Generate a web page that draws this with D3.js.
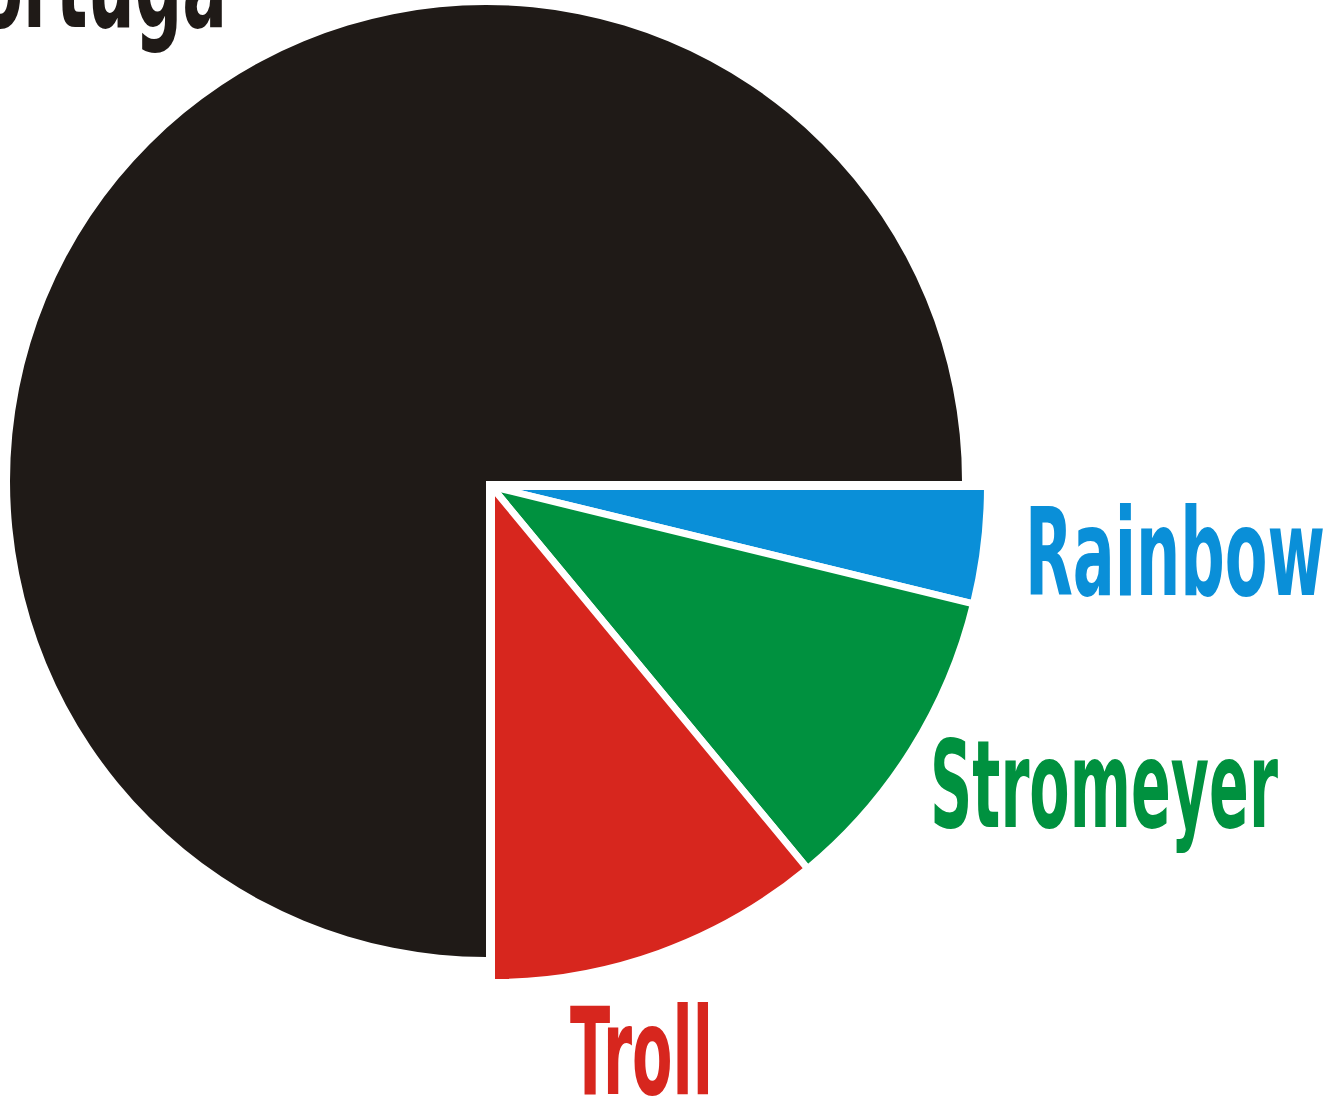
<!DOCTYPE html>
<html>
<head>
<meta charset="utf-8">
<script src="https://cdn.jsdelivr.net/npm/d3@7"></script>
<style>
  body { margin: 0; background: #fff; }
  text { font-family: "Liberation Sans Narrow", "DejaVu Sans Condensed", sans-serif; font-weight: bold; }
</style>
</head>
<body>
<div id="chart"></div>
<script>
// slice data, in drawing order (clockwise from 3 o'clock)
const names = ["Rainbow", "Stromeyer", "Troll", "Tortuga"];
const shares = [3.8, 10.2, 11.0, 75.0];
const colors = ["#0a8fd8", "#00913f", "#d7261e", "#1f1a17"];

const width = 1323, height = 1099;
// label placement (x, baseline, width) - picked by eye
const labelLayout = {
  "Rainbow":   {x: 1025, y: 595, w: 300, anchor: "start"},
  "Stromeyer": {x: 930,  y: 827, w: 348, anchor: "start"},
  "Troll":     {x: 570,  y: 1094, w: 143, anchor: "start"},
  "Tortuga":   {x: 227,  y: 27,  w: 285, anchor: "end"}
};

const svg = d3.select("#chart").append("svg")
  .attr("width", width)
  .attr("height", height);

const pie = d3.pie()
  .sort(null)
  .value(d => d)
  .startAngle(Math.PI / 2)
  .endAngle(Math.PI * 2.5);

const arcs = pie(shares);

const bigArc = d3.arc().innerRadius(0).outerRadius(476);
const outArc = d3.arc().innerRadius(0).outerRadius(496);

// the main (unexploded) slice
svg.append("g")
  .attr("transform", "translate(486,481)")
  .selectAll("path")
  .data(arcs.filter((a, i) => names[i] == "Tortuga"))
  .enter().append("path")
    .attr("d", bigArc)
    .style("fill", d => colors[d.index]);

// the pulled out slices
svg.append("g")
  .attr("transform", "translate(491.5,486.5)")
  .selectAll("path")
  .data(arcs.filter((a, i) => names[i] != "Tortuga"))
  .enter().append("path")
    .attr("d", outArc)
    .style("fill", d => colors[d.index])
    .style("stroke", "#fff")
    .style("stroke-width", 7)
    .style("stroke-linejoin", "bevel");

// labels: squeeze the bold font horizontally so it looks condensed
svg.append("g")
  .selectAll("text")
  .data(names)
  .enter().append("text")
    .attr("text-anchor", d => labelLayout[d].anchor)
    .style("font-size", "122px")
    .style("fill", (d, i) => colors[i])
    .text(d => d)
    .attr("transform", function (d) {
      let l = labelLayout[d];
      let sx = l.w / this.getComputedTextLength();
      return "translate(" + l.x + "," + l.y + ") scale(" + sx + ",1)";
    });
</script>
</body>
</html>
